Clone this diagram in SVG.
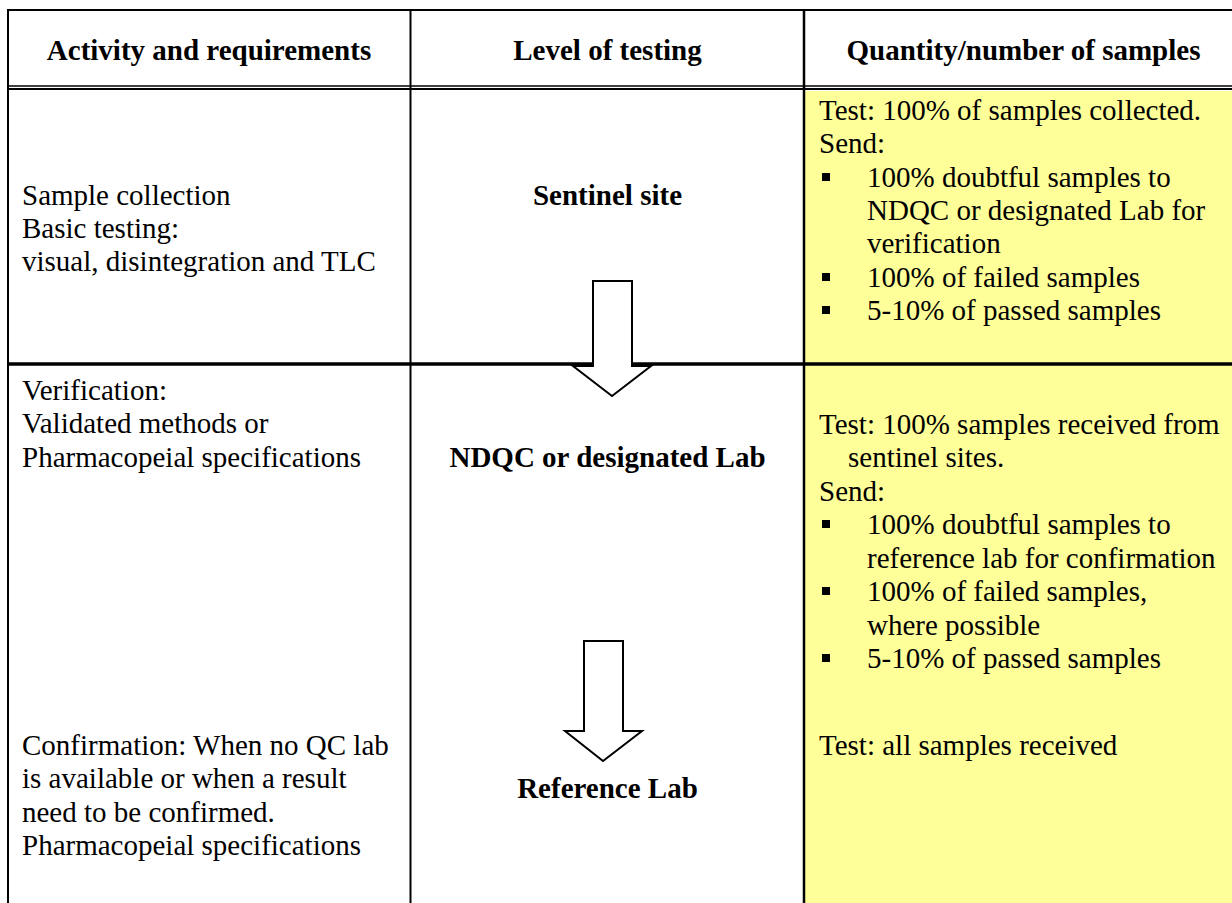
<svg xmlns="http://www.w3.org/2000/svg" width="1232" height="903" viewBox="0 0 1232 903">
  <style>
    text { font-family: "Liberation Serif", "Times New Roman", serif; font-size: 29px; fill: #000; }
    .h { font-weight: bold; text-anchor: middle; }
    .b { font-weight: bold; text-anchor: middle; }
    .rule { stroke: #000; fill: none; }
    .arrow { fill: #fff; stroke: #000; stroke-width: 2; stroke-linejoin: miter; }
    .bul { fill: #000; }
  </style>
  <rect x="0" y="0" width="1232" height="903" fill="#fff"/>
  <g id="yellow-column">
    <rect x="805" y="91" width="427" height="812" fill="#FFFF99"/>
  </g>
  <g id="grid">
    <line class="rule" x1="7" y1="10" x2="1232" y2="10" stroke-width="2"/>
    <line class="rule" x1="8" y1="9" x2="8" y2="903" stroke-width="2"/>
    <line class="rule" x1="410.5" y1="9" x2="410.5" y2="903" stroke-width="2"/>
    <line class="rule" x1="804" y1="9" x2="804" y2="903" stroke-width="2.5"/>
    <line class="rule" x1="7" y1="86" x2="1232" y2="86" stroke-width="1.3"/>
    <line class="rule" x1="7" y1="89" x2="1232" y2="89" stroke-width="2"/>
    <line class="rule" x1="7" y1="364" x2="1232" y2="364" stroke-width="3.3"/>
  </g>
  <g id="header">
    <text class="h" x="209" y="60">Activity and requirements</text>
    <text class="h" x="607.5" y="60">Level of testing</text>
    <text class="h" x="1023.5" y="60">Quantity/number of samples</text>
  </g>
  <g id="row1-activity">
    <text x="22" y="205">Sample collection</text>
    <text x="22" y="238">Basic testing:</text>
    <text x="22" y="271">visual, disintegration and TLC</text>
  </g>
  <g id="node-sentinel-site">
    <text class="b" x="607.5" y="205">Sentinel site</text>
  </g>
  <g id="row1-quantity">
    <text x="819" y="120">Test: 100% of samples collected.</text>
    <text x="819" y="153">Send:</text>
    <rect class="bul" x="822" y="173" width="8" height="8"/>
    <text x="867" y="187">100% doubtful samples to</text>
    <text x="867" y="220">NDQC or designated Lab for</text>
    <text x="867" y="253">verification</text>
    <rect class="bul" x="822" y="273" width="8" height="8"/>
    <text x="867" y="287">100% of failed samples</text>
    <rect class="bul" x="822" y="306" width="8" height="8"/>
    <text x="867" y="320">5-10% of passed samples</text>
  </g>
  <g id="row2-activity">
    <text x="22" y="400">Verification:</text>
    <text x="22" y="433">Validated methods or</text>
    <text x="22" y="467">Pharmacopeial specifications</text>
  </g>
  <g id="node-ndqc">
    <text class="b" x="607.5" y="467">NDQC or designated Lab</text>
  </g>
  <g id="row2-quantity">
    <text x="819" y="434">Test: 100% samples received from</text>
    <text x="848" y="467">sentinel sites.</text>
    <text x="819" y="501">Send:</text>
    <rect class="bul" x="822" y="520" width="8" height="8"/>
    <text x="867" y="534">100% doubtful samples to</text>
    <text x="867" y="568">reference lab for confirmation</text>
    <rect class="bul" x="822" y="587" width="8" height="8"/>
    <text x="867" y="601">100% of failed samples,</text>
    <text x="867" y="635">where possible</text>
    <rect class="bul" x="822" y="654" width="8" height="8"/>
    <text x="867" y="668">5-10% of passed samples</text>
  </g>
  <g id="row3-activity">
    <text x="22" y="755">Confirmation: When no QC lab</text>
    <text x="22" y="788">is available or when a result</text>
    <text x="22" y="822">need to be confirmed.</text>
    <text x="22" y="855">Pharmacopeial specifications</text>
  </g>
  <g id="node-reference-lab">
    <text class="b" x="607.5" y="798">Reference Lab</text>
  </g>
  <g id="row3-quantity">
    <text x="819" y="755">Test: all samples received</text>
  </g>
  <g id="connectors">
    <polygon class="arrow" points="593,281 632,281 632,366 651,366 612,396 573,366 593,366"/>
    <polygon class="arrow" points="584,641 623,641 623,731 642,731 603,761 565,731 584,731"/>
  </g>
</svg>
